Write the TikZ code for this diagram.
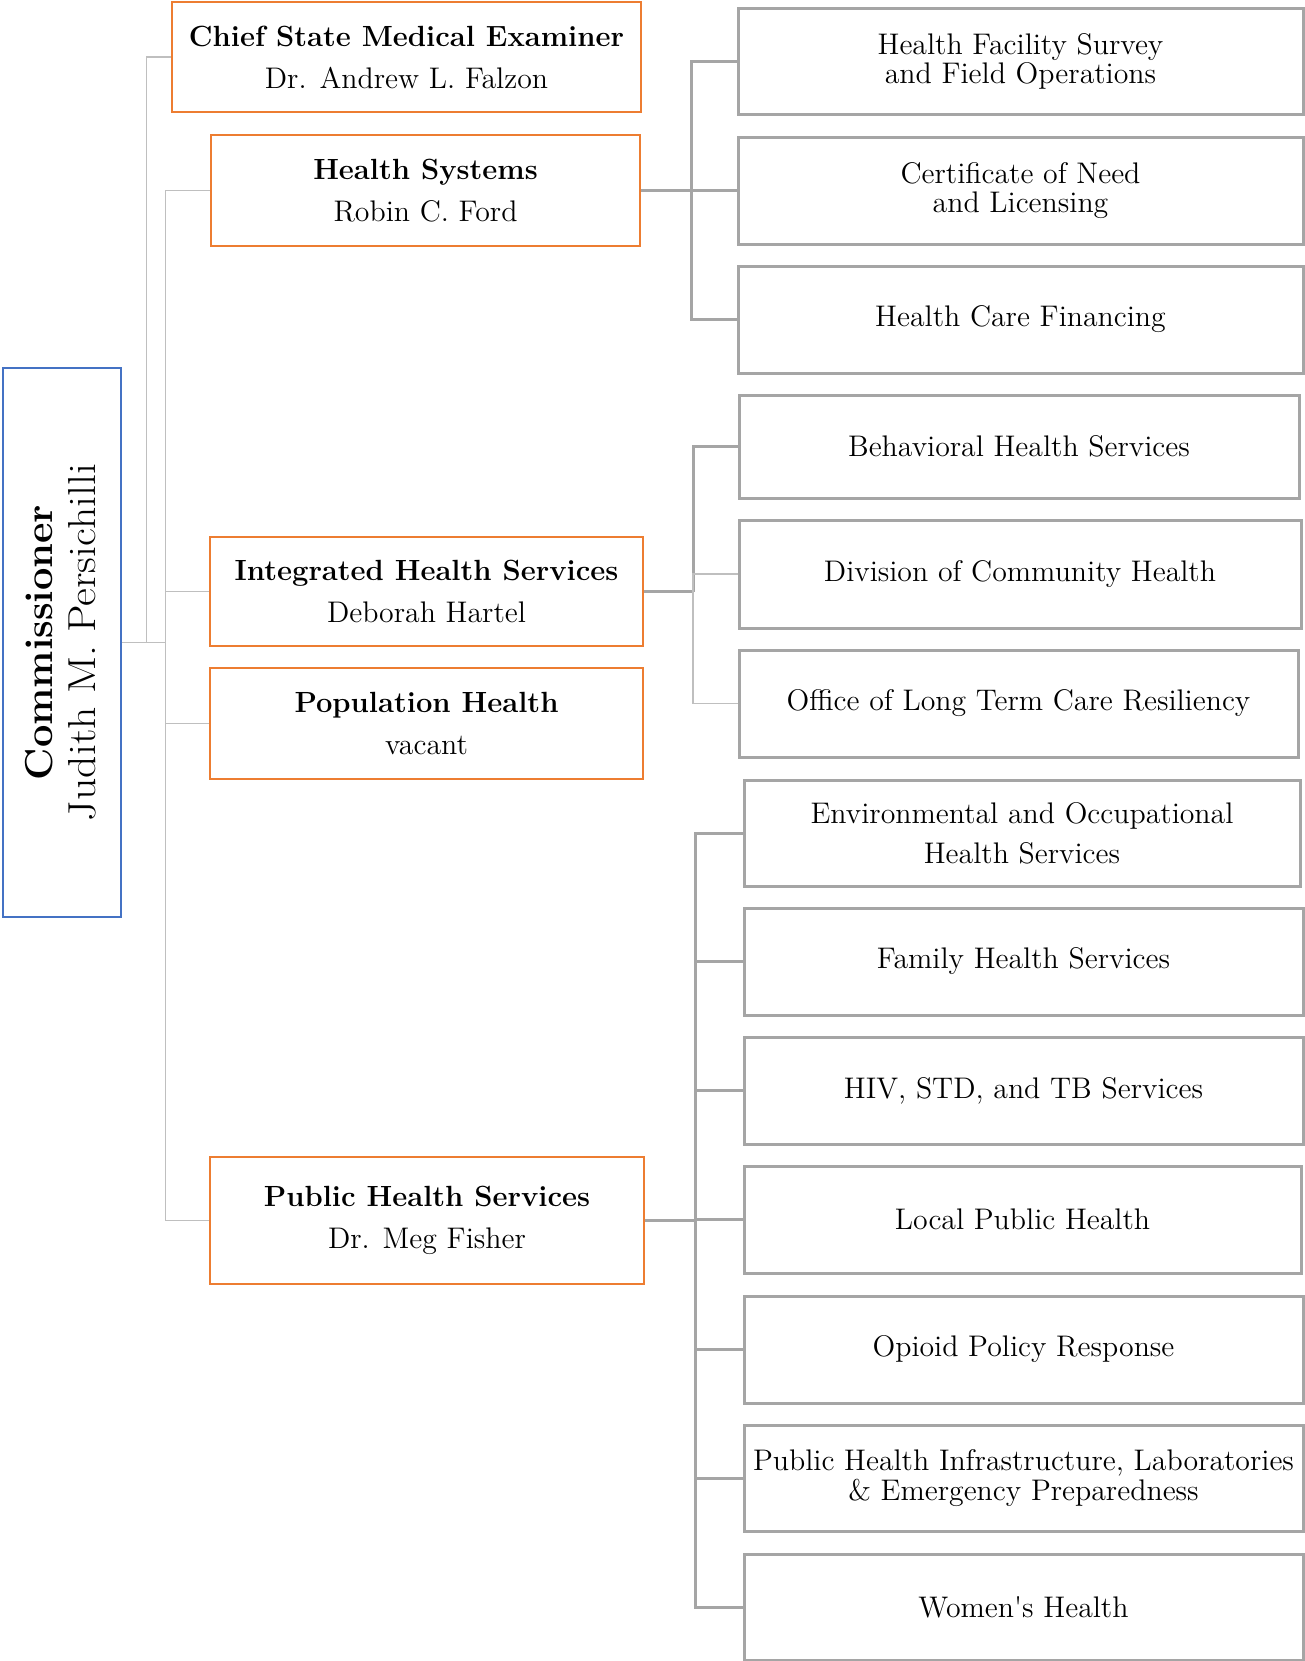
\documentclass[tikz,border=0pt]{standalone}
\definecolor{orangec}{HTML}{ED7D31}
\definecolor{bluec}{HTML}{4472C4}
\definecolor{grayc}{HTML}{A5A5A5}
\definecolor{lightc}{HTML}{BFBFBF}
\newcommand\hd[1]{{\fontsize{14.6}{21}\selectfont\bfseries #1}}
\tikzset{
  orgbox/.style={draw=orangec, line width=1.25pt, align=center, inner sep=0pt, font=\fontsize{14.9}{21}\selectfont},
  graybox/.style={draw=grayc, line width=1.5pt, align=center, inner sep=0pt, font=\fontsize{14.9}{14.85}\selectfont},
  combox/.style={draw=bluec, line width=1.25pt, inner sep=0pt},
  thinline/.style={draw=lightc, line width=0.7pt},
  thickline/.style={draw=grayc, line width=1.5pt},
}
\begin{document}
\begin{tikzpicture}[x=0.5pt,y=-0.5pt]
\useasboundingbox (0,0) rectangle (1305,1661);
% commissioner
\node[combox, minimum width=59pt, minimum height=274.5pt] (com) at (62,642.5)
  {\hspace{3pt}\rotatebox{90}{\fontsize{19.5}{21.5}\selectfont\begin{tabular}{@{}c@{}}\scalebox{1.02}[1]{\textbf{Commissioner}}\\\scalebox{1.12}[1]{Judith M. Persichilli}\end{tabular}}};
% second level
\node[orgbox, minimum width=234.5pt, minimum height=55pt] (csme) at (406.5,57)
  {\hd{Chief State Medical Examiner}\\Dr. Andrew L. Falzon};
\node[orgbox, minimum width=214.5pt, minimum height=55.5pt] (hs) at (425.5,190.5)
  {\hd{Health Systems}\\Robin C. Ford};
\node[orgbox, minimum width=216.5pt, minimum height=54.5pt] (ihs) at (426.5,591.5)
  {\hd{Integrated Health Services}\\Deborah Hartel};
\node[orgbox, minimum width=216.5pt, minimum height=55.5pt] (pop) at (426.5,723.5)
  {\hd{Population Health}\\vacant};
\node[orgbox, minimum width=217pt, minimum height=63.5pt] (phs) at (427,1220.5)
  {\hd{Public Health Services}\\Dr. Meg Fisher};
% third level
\node[graybox, minimum width=282.5pt, minimum height=53pt] (hfs) at (1020.5,61.5)
  {Health Facility Survey\\and Field Operations};
\node[graybox, minimum width=282.5pt, minimum height=53.5pt] (con) at (1020.5,190.5)
  {Certificate of Need\\and Licensing};
\node[graybox, minimum width=282.5pt, minimum height=53.5pt] (hcf) at (1020.5,319.5)
  {Health Care Financing};
\node[graybox, minimum width=280pt, minimum height=51.5pt] (beh) at (1019,446.5)
  {Behavioral Health Services};
\node[graybox, minimum width=281pt, minimum height=54pt] (div) at (1020,574)
  {Division of Community Health};
\node[graybox, minimum width=279.5pt, minimum height=53.5pt] (ltc) at (1018.5,703.5)
  {Office of Long Term Care Resiliency};
\node[graybox, minimum width=278pt, minimum height=53pt, font=\fontsize{14.9}{20}\selectfont] (env) at (1022,833)
  {Environmental and Occupational\\Health Services};
\node[graybox, minimum width=279.5pt, minimum height=53.5pt] (fam) at (1023.5,961.5)
  {Family Health Services};
\node[graybox, minimum width=279.5pt, minimum height=53.5pt] (hiv) at (1023.5,1090.5)
  {HIV, STD, and TB Services};
\node[graybox, minimum width=278.5pt, minimum height=53.5pt] (loc) at (1022.5,1219.5)
  {Local Public Health};
\node[graybox, minimum width=279.5pt, minimum height=53.5pt] (opi) at (1023.5,1349.5)
  {Opioid Policy Response};
\node[graybox, minimum width=279.5pt, minimum height=53pt] (phi) at (1023.5,1478)
  {Public Health Infrastructure, Laboratories\\\& Emergency Preparedness};
\node[graybox, minimum width=279.5pt, minimum height=53pt] (wom) at (1023.5,1607)
  {Women\textquotesingle s Health};
% junctions
\coordinate (j1) at (146.5,642.5);
\coordinate (j2) at (165.5,642.5);
\coordinate (h1) at (691,190.5);
\coordinate (i1) at (693,591.5);
\coordinate (p1) at (695,1220.5);
% left connectors
\draw[thinline] (com.east) -- (j2);
\draw[thinline] (j1) |- (csme.west);
\draw[thinline] (j2) |- (hs.west);
\draw[thinline] (j2) |- (ihs.west);
\draw[thinline] (j2) |- (pop.west);
\draw[thinline] (j2) |- (phs.west);
% health systems
\draw[thickline] (hs.east) -- (h1);
\draw[thickline] (h1) |- (hfs.west);
\draw[thickline] (h1) -- (con.west);
\draw[thickline] (h1) |- (hcf.west);
% integrated health services
\draw[thickline] (ihs.east) -- (i1);
\draw[thickline] (i1) |- (beh.west);
\draw[thinline] (i1) |- (div.west);
\draw[thinline] (i1) |- (ltc.west);
% public health services
\draw[thickline] (phs.east) -- (p1);
\foreach \n in {env,fam,hiv,loc,opi,phi,wom}
  \draw[thickline] (p1) |- (\n.west);
\end{tikzpicture}
\end{document}
